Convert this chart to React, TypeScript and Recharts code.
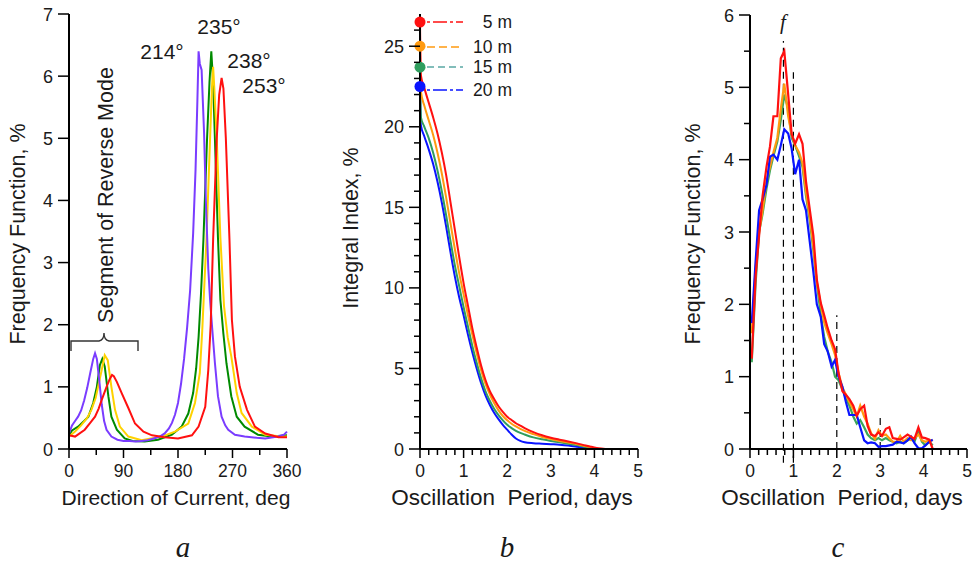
import React from "react";
import { LineChart, Line, XAxis, YAxis, ReferenceLine } from "recharts";

const FONT = "'Liberation Sans', Arial, sans-serif";
const SERIF = "'Liberation Serif', 'Times New Roman', serif";
const INK = "#1a1a1a";

// ---- panel a: frequency function vs direction of current ----
const A_PURPLE_DIR = [0, 5, 10, 15, 20, 25, 30, 35, 40, 43, 46, 50, 54, 58, 62, 70, 80, 90, 100, 110, 120, 130, 140, 150, 158, 165, 170, 175, 180, 185, 190, 195, 200, 205, 209, 212, 214, 216, 219, 223, 226, 230, 233, 236, 241, 246, 252, 258, 263, 274, 290, 310, 324, 345, 355, 360];
const A_PURPLE_VAL = [0.25, 0.38, 0.45, 0.52, 0.62, 0.78, 0.98, 1.22, 1.45, 1.54, 1.45, 1.1, 0.72, 0.45, 0.31, 0.2, 0.15, 0.13, 0.13, 0.12, 0.13, 0.14, 0.17, 0.2, 0.25, 0.33, 0.42, 0.55, 0.74, 1.05, 1.45, 1.95, 2.55, 3.47, 4.5, 5.6, 6.4, 6.2, 6.1, 5.1, 4.0, 2.9, 2.4, 2.0, 1.38, 0.85, 0.52, 0.38, 0.31, 0.23, 0.2, 0.18, 0.17, 0.2, 0.23, 0.28];

const A_GREEN_DIR = [0, 5, 15, 25, 32, 40, 46, 51, 55, 59, 65, 70, 79, 92, 105, 125, 147, 170, 186, 197, 205, 210, 214, 218, 222, 228, 232, 235, 238, 241, 246, 250, 255, 260, 268, 277, 290, 312, 335, 360];
const A_GREEN_VAL = [0.22, 0.3, 0.36, 0.45, 0.52, 0.74, 1.0, 1.35, 1.45, 1.33, 0.85, 0.52, 0.31, 0.17, 0.13, 0.12, 0.15, 0.23, 0.36, 0.57, 0.9, 1.3, 1.8, 2.5, 3.37, 5.0, 5.9, 6.4, 5.9, 4.98, 3.4, 2.4, 1.85, 1.38, 0.85, 0.52, 0.36, 0.23, 0.2, 0.22];

const A_YELLOW_DIR = [0, 10, 20, 30, 37, 44, 48, 54, 59, 64, 70, 76, 84, 98, 120, 153, 175, 197, 208, 216, 220, 227, 233, 236, 238, 240, 244, 250, 256, 262, 268, 277, 285, 302, 324, 351, 360];
const A_YELLOW_VAL = [0.2, 0.28, 0.38, 0.5, 0.63, 0.82, 1.0, 1.27, 1.51, 1.43, 1.0, 0.63, 0.36, 0.2, 0.14, 0.2, 0.28, 0.41, 0.74, 1.22, 1.9, 3.37, 5.0, 5.8, 6.15, 5.8, 5.0, 3.4, 2.3, 1.8, 1.49, 0.9, 0.58, 0.36, 0.23, 0.2, 0.2];

const A_RED_DIR = [0, 10, 26, 35, 43, 49, 54, 62, 67, 71, 74, 79, 87, 98, 109, 123, 137, 158, 180, 203, 214, 225, 230, 234, 238, 244, 248, 252, 255, 259, 265, 269, 274, 282, 294, 307, 324, 346, 360];
const A_RED_VAL = [0.22, 0.2, 0.31, 0.42, 0.52, 0.65, 0.79, 1.0, 1.12, 1.19, 1.17, 1.08, 0.9, 0.66, 0.41, 0.28, 0.22, 0.19, 0.17, 0.22, 0.36, 0.68, 1.27, 2.0, 3.37, 5.0, 5.7, 5.97, 5.8, 5.0, 3.37, 2.08, 1.49, 1.0, 0.63, 0.36, 0.25, 0.19, 0.19];

const A_PEAK_LABELS = ["214°", "235°", "238°", "253°"];

// ---- panel b: integral index vs oscillation period ----
const B_PERIOD = [0, 0.02, 0.1, 0.2, 0.3, 0.4, 0.5, 0.6, 0.7, 0.8, 0.9, 1.0, 1.1, 1.2, 1.3, 1.4, 1.5, 1.6, 1.7, 1.8, 1.9, 2.0, 2.1, 2.2, 2.3, 2.4, 2.6, 2.8, 3.0, 3.2, 3.4, 3.6, 3.8, 3.9, 4.0, 4.1, 4.25];
const B_5M = [26.5, 23.2, 22.4, 21.5, 20.6, 19.6, 18.4, 17.0, 15.3, 13.6, 11.9, 10.3, 8.9, 7.5, 6.3, 5.2, 4.3, 3.6, 3.1, 2.65, 2.3, 2.0, 1.8, 1.6, 1.45, 1.3, 1.05, 0.85, 0.7, 0.58, 0.47, 0.35, 0.22, 0.16, 0.1, 0.05, 0];
const B_10M = [25.0, 22.2, 21.3, 20.4, 19.5, 18.4, 17.1, 15.6, 14.0, 12.4, 10.9, 9.6, 8.3, 7.1, 5.95, 4.9, 4.05, 3.4, 2.85, 2.4, 2.05, 1.78, 1.57, 1.4, 1.25, 1.12, 0.92, 0.75, 0.62, 0.5, 0.4, 0.3, 0.18, 0.12, 0.05, 0, null];
const B_15M = [23.7, 20.6, 20.0, 19.3, 18.4, 17.3, 16.0, 14.5, 12.9, 11.4, 10.1, 8.8, 7.6, 6.4, 5.35, 4.4, 3.6, 3.0, 2.5, 2.1, 1.78, 1.5, 1.3, 1.13, 1.0, 0.9, 0.72, 0.6, 0.5, 0.42, 0.33, 0.24, 0.12, 0.05, 0, null, null];
const B_20M = [22.5, 20.1, 19.4, 18.6, 17.7, 16.6, 15.3, 13.8, 12.2, 10.7, 9.4, 8.3, 7.1, 6.0, 5.0, 4.1, 3.35, 2.75, 2.25, 1.85, 1.5, 1.2, 0.9, 0.65, 0.5, 0.42, 0.36, 0.33, 0.3, 0.27, 0.22, 0.14, 0.05, 0, null, null, null];
const B_DEPTHS = ["5 m", "10 m", "15 m", "20 m"];

// ---- panel c: frequency function vs oscillation period ----
const C_PERIOD = [0.04, 0.13, 0.21, 0.29, 0.38, 0.46, 0.54, 0.63, 0.71, 0.79, 0.88, 0.96, 1.04, 1.13, 1.21, 1.29, 1.38, 1.46, 1.54, 1.63, 1.71, 1.79, 1.88, 1.96, 2.04, 2.13, 2.21, 2.29, 2.38, 2.46, 2.54, 2.63, 2.71, 2.79, 2.88, 2.96, 3.04, 3.13, 3.21, 3.29, 3.38, 3.46, 3.54, 3.63, 3.71, 3.79, 3.88, 3.96, 4.04, 4.13, 4.21];
const C_5M = [1.25, 2.4, 2.95, 3.5, 3.9, 4.18, 4.6, 4.6, 5.4, 5.5, 4.9, 4.35, 4.22, 4.35, 4.22, 3.7, 3.3, 2.95, 2.34, 2.02, 1.85, 1.67, 1.5, 1.38, 1.05, 0.8, 0.75, 0.69, 0.6, 0.46, 0.55, 0.6, 0.32, 0.2, 0.18, 0.23, 0.18, 0.28, 0.3, 0.15, 0.14, 0.13, 0.16, 0.2, 0.17, 0.14, 0.3, 0.16, 0.15, 0.13, 0.0];
const C_10M = [1.6, 2.5, 3.0, 3.3, 3.7, 3.9, 4.1, 4.3, 4.7, 5.05, 4.6, 4.35, 4.2, 4.1, 3.95, 3.55, 3.2, 2.8, 2.3, 2.0, 1.75, 1.6, 1.45, 1.3, 1.05, 0.85, 0.75, 0.65, 0.55, 0.45, 0.6, 0.45, 0.35, 0.22, 0.14, 0.26, 0.18, 0.2, 0.15, 0.1, 0.1, 0.18, 0.1, 0.15, 0.12, 0.15, 0.2, 0.12, 0.1, 0.12, 0.12];
const C_15M = [1.2, 2.3, 3.0, 3.25, 3.6, 3.85, 4.05, 4.25, 4.55, 4.9, 4.7, 4.3, 4.2, 4.05, 3.9, 3.5, 3.15, 2.75, 2.3, 1.85, 1.55, 1.35, 1.2, 1.0, 0.95, 0.82, 0.7, 0.6, 0.45, 0.35, 0.4, 0.3, 0.2, 0.15, 0.12, 0.15, 0.12, 0.15, 0.12, 0.1, 0.08, 0.1, 0.08, 0.12, 0.14, 0.1, 0.25, 0.1, 0.05, 0.1, 0.05];
const C_20M = [1.74, 2.6, 3.3, 3.45, 3.65, 4.04, 4.07, 4.0, 4.2, 4.42, 4.36, 4.15, 3.8, 4.0, 3.45, 3.3, 2.85, 2.45, 2.0, 1.83, 1.45, 1.35, 1.14, 1.23, 1.0, 0.86, 0.65, 0.47, 0.47, 0.47, 0.3, 0.12, 0.08, 0.09, 0.08, 0.03, 0.04, 0.04, 0.05, 0.06, 0.1, 0.09, 0.08, 0.12, 0.17, 0.08, 0.01, 0.01, 0.05, 0.1, 0.13];
// dashed markers in panel c
const C_MARK_X = [0.77, 1.0, 2.0, 3.0];
const C_MARK_TOP = [5.64, 5.21, 1.85, 0.44];
const C_MARK_BOTTOM = [-0.19, -0.19, 0, 0];

const zip = (xs: number[], ys: (number | null)[]) => xs.map((x, i) => ({ x, y: ys[i] }));

const range = (n: number, step: number) =>
  Array.from({ length: n }, (_, i) => Math.round(i * step * 100) / 100);

const isInt = (v: number) => Math.abs(v - Math.round(v)) < 1e-6;

const xTick = (isMajor: (v: number) => boolean) => (props: any) => {
  const { x, y, payload } = props;
  const major = isMajor(payload.value);
  return (
    <g>
      <line x1={x} x2={x} y1={y} y2={y + (major ? 9 : 6)} stroke="#000" strokeWidth={1.5} />
      {major && (
        <text x={x} y={y + 28} textAnchor="middle" fontSize={17.5} fontFamily={FONT} fill={INK}>
          {payload.value}
        </text>
      )}
    </g>
  );
};

const yTick = (isMajor: (v: number) => boolean) => (props: any) => {
  const { x, y, payload } = props;
  const major = isMajor(payload.value);
  return (
    <g>
      <line x1={x - (major ? 11 : 6)} x2={x} y1={y} y2={y} stroke="#000" strokeWidth={1.5} />
      {major && (
        <text x={x - 16} y={y + 6.5} textAnchor="end" fontSize={18} fontFamily={FONT} fill={INK}>
          {payload.value}
        </text>
      )}
    </g>
  );
};

const firstDot = (color: string) => (props: any) =>
  props.index === 0 ? (
    <circle key={`dot-${props.index}`} cx={props.cx} cy={props.cy} r={5.5} fill={color} />
  ) : (
    <g key={`dot-${props.index}`} />
  );

const axisLine = { stroke: "#000", strokeWidth: 2 };
const axisCommon = { tickSize: 0, tickMargin: 0, tickLine: false, interval: 0 as const, axisLine };

function PanelA() {
  return (
    <LineChart width={312} height={567} margin={{ top: 14, right: 25, bottom: 78, left: 29 }}>
      <XAxis dataKey="x" type="number" domain={[0, 360]} ticks={range(9, 45)} height={40}
        tick={xTick((v) => v % 90 === 0)} {...axisCommon} />
      <YAxis type="number" domain={[0, 7]} ticks={range(8, 1)} width={40} tick={yTick(() => true)} {...axisCommon} />
      <Line data={zip(A_GREEN_DIR, A_GREEN_VAL)} dataKey="y" stroke="#008a00" strokeWidth={2} dot={false} isAnimationActive={false} />
      <Line data={zip(A_YELLOW_DIR, A_YELLOW_VAL)} dataKey="y" stroke="#ffd200" strokeWidth={2} dot={false} isAnimationActive={false} />
      <Line data={zip(A_PURPLE_DIR, A_PURPLE_VAL)} dataKey="y" stroke="#7a3cff" strokeWidth={2} dot={false} isAnimationActive={false} />
      <Line data={zip(A_RED_DIR, A_RED_VAL)} dataKey="y" stroke="#ff1010" strokeWidth={2} dot={false} isAnimationActive={false} />
    </LineChart>
  );
}

function PanelB() {
  const series = [
    { vals: B_20M, color: "#0a14ff" },
    { vals: B_15M, color: "#2f9e5e" },
    { vals: B_10M, color: "#ff9a10" },
    { vals: B_5M, color: "#ff1010" },
  ];
  return (
    <LineChart width={320} height={567} margin={{ top: 14, right: 12, bottom: 78, left: 50 }}>
      <XAxis dataKey="x" type="number" domain={[0, 5]} ticks={range(26, 0.2)} height={40}
        tick={xTick(isInt)} {...axisCommon} />
      <YAxis type="number" domain={[0, 27]} ticks={range(27, 1)} width={40}
        tick={yTick((v) => v % 5 === 0)} {...axisCommon} />
      {series.map((s, i) => (
        <Line key={i} data={zip(B_PERIOD, s.vals)} dataKey="y" type="monotone" stroke={s.color}
          strokeWidth={2} dot={firstDot(s.color)} activeDot={false} isAnimationActive={false} />
      ))}
    </LineChart>
  );
}

function PanelC() {
  const series = [
    { vals: C_15M, color: "#3ba659" },
    { vals: C_10M, color: "#ff9a10" },
    { vals: C_20M, color: "#0a14ff" },
    { vals: C_5M, color: "#ff1010" },
  ];
  return (
    <LineChart width={307} height={567} margin={{ top: 15, right: 10, bottom: 78, left: 40 }}>
      <XAxis dataKey="x" type="number" domain={[0, 5]} ticks={range(26, 0.2)} height={40}
        tick={xTick(isInt)} {...axisCommon} />
      <YAxis type="number" domain={[0, 6]} ticks={range(13, 0.5)} width={40}
        tick={yTick(isInt)} {...axisCommon} />
      {C_MARK_X.map((x, i) => (
        <ReferenceLine key={`m${i}`} segment={[{ x, y: C_MARK_BOTTOM[i] }, { x, y: C_MARK_TOP[i] }]}
          stroke="#000" strokeWidth={1.2} strokeDasharray="7 5" ifOverflow="visible" />
      ))}
      {series.map((s, i) => (
        <Line key={i} data={zip(C_PERIOD, s.vals)} dataKey="y" stroke={s.color}
          strokeWidth={2.2} dot={false} isAnimationActive={false} />
      ))}
    </LineChart>
  );
}

function Annotations() {
  const t = { fontFamily: FONT, fill: INK };
  const legend = [
    { y: 22, color: "#ff1010", dash: "3 3 14 3" },
    { y: 47, color: "#ff9a10", dash: "8 4" },
    { y: 67, color: "#5aa8a4", dash: "7 4" },
    { y: 90, color: "#0a14ff", dash: "3 3 14 3" },
  ];
  const peaks = [
    { x: 162, y: 59 },
    { x: 219, y: 34 },
    { x: 249, y: 68 },
    { x: 264, y: 93 },
  ];
  return (
    <svg width={977} height={567} style={{ position: "absolute", left: 0, top: 0, pointerEvents: "none" }}>
      {/* panel a */}
      <text transform="translate(25,234) rotate(-90)" textAnchor="middle" fontSize={21.5} {...t}>Frequency Function, %</text>
      <text transform="translate(113,195) rotate(-90)" textAnchor="middle" fontSize={21.5} {...t}>Segment of Reverse Mode</text>
      <path d="M71,351 L71,341 L99,341 Q104,340 104,333 Q104,340 109,341 L138,341 L138,351" fill="none" stroke="#333" strokeWidth={1.4} />
      {A_PEAK_LABELS.map((l, i) => (
        <text key={l} x={peaks[i].x} y={peaks[i].y} textAnchor="middle" fontSize={21} {...t}>{l}</text>
      ))}
      <text x={176} y={505} textAnchor="middle" fontSize={21} {...t}>Direction of Current, deg</text>
      <text x={183} y={557} textAnchor="middle" fontSize={29} fontStyle="italic" fontFamily={SERIF} fill={INK}>a</text>

      {/* panel b */}
      <text transform="translate(358,228) rotate(-90)" textAnchor="middle" fontSize={21.5} {...t}>Integral Index, %</text>
      {legend.map((l, i) => (
        <g key={i}>
          <line x1={427} x2={463} y1={l.y} y2={l.y} stroke={l.color} strokeWidth={1.6} strokeDasharray={l.dash} />
          <text x={512} y={l.y + 6} textAnchor="end" fontSize={17.5} {...t}>{B_DEPTHS[i]}</text>
        </g>
      ))}
      <text x={512} y={505} textAnchor="middle" fontSize={22.5} style={{ whiteSpace: "pre" }} {...t}>Oscillation  Period, days</text>
      <text x={507} y={557} textAnchor="middle" fontSize={29} fontStyle="italic" fontFamily={SERIF} fill={INK}>b</text>

      {/* panel c */}
      <text transform="translate(700,234) rotate(-90)" textAnchor="middle" fontSize={21.5} {...t}>Frequency Function, %</text>
      <text x={783} y={29} textAnchor="middle" fontSize={21} fontStyle="italic" fontFamily={SERIF} fill={INK}>f</text>
      <text x={842} y={505} textAnchor="middle" fontSize={22.5} style={{ whiteSpace: "pre" }} {...t}>Oscillation  Period, days</text>
      <text x={838} y={557} textAnchor="middle" fontSize={29} fontStyle="italic" fontFamily={SERIF} fill={INK}>c</text>
    </svg>
  );
}

export default function App() {
  return (
    <div style={{ position: "absolute", left: 0, top: 0, width: 977, height: 567, background: "#fff" }}>
      <div style={{ position: "absolute", left: 0, top: 0 }}><PanelA /></div>
      <div style={{ position: "absolute", left: 330, top: 0 }}><PanelB /></div>
      <div style={{ position: "absolute", left: 670, top: 0 }}><PanelC /></div>
      <Annotations />
    </div>
  );
}
